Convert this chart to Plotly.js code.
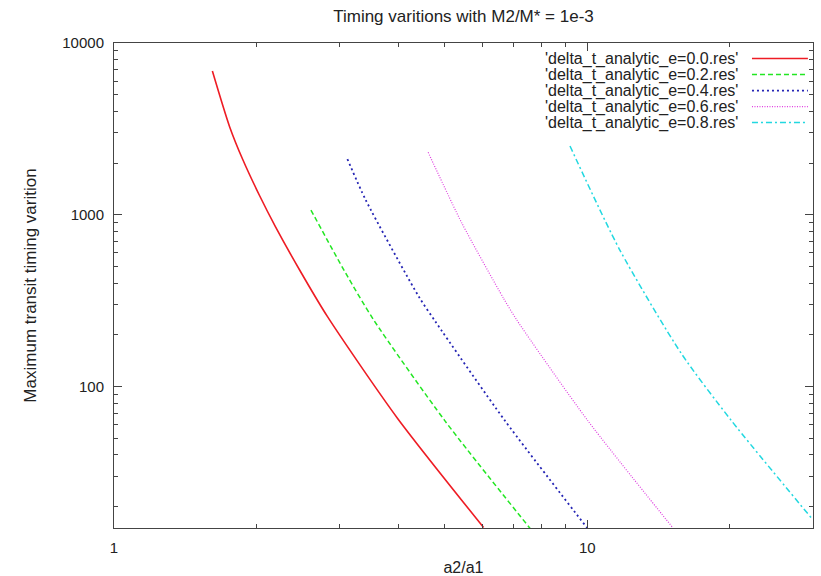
<!DOCTYPE html>
<html>
<head>
<meta charset="utf-8">
<script src="https://cdn.plot.ly/plotly-3.0.1.min.js"></script>
<style>html,body{margin:0;padding:0;background:#fff;}#chart{width:821px;height:576px;}</style>
</head>
<body>
<div id="chart"></div>
<script>
// ---- data ----
const seriesNames = [
  "'delta_t_analytic_e=0.0.res'",
  "'delta_t_analytic_e=0.2.res'",
  "'delta_t_analytic_e=0.4.res'",
  "'delta_t_analytic_e=0.6.res'",
  "'delta_t_analytic_e=0.8.res'"
];
const x_e00 = [1.614, 1.755, 1.872, 2.030, 2.193, 2.464, 2.826, 3.968, 6.04];
const y_e00 = [6870, 3258, 2089, 1294, 853, 480, 255, 65.6, 15.1];
const x_e02 = [2.607, 3.09, 3.543, 5.0, 7.575];
const y_e02 = [1065, 455, 242.7, 63.3, 14.9];
const x_e04 = [3.113, 3.404, 4.408, 4.786, 6.688, 10.0];
const y_e04 = [2110, 1218, 333, 237, 63.7, 15.0];
const x_e06 = [4.612, 5.437, 6.656, 7.1, 10.01, 15.18];
const y_e06 = [2309, 891, 326, 243.6, 63.7, 15.0];
const x_e08 = [9.196, 11.72, 15.8, 20.13, 29.9];
const y_e08 = [2512, 623, 155.9, 63.7, 16.9];

const xTickVals = [1, 10];
const xTickText = ["1", "10"];
const xMinorVals = [2, 3, 4, 5, 6, 7, 8, 9, 20, 30];
const yTickVals = [100, 1000, 10000];
const yTickText = ["100", "1000", "10000"];
const yMinorVals = [20, 30, 40, 50, 60, 70, 80, 90, 200, 300, 400, 500, 600, 700, 800, 900, 2000, 3000, 4000, 5000, 6000, 7000, 8000, 9000];

// ---- styles ----
const colors = ['#ee1c24', '#22e622', '#2424b4', '#e040e0', '#22d8e0'];
const dashes = ['solid', '5px,3px', '2px,3px', '1px,1.5px', '6px,3px,2px,3px'];
const widths = [1.6, 1.5, 1.8, 1.2, 1.5];

const xs = [x_e00, x_e02, x_e04, x_e06, x_e08];
const ys = [y_e00, y_e02, y_e04, y_e06, y_e08];

const traces = xs.map((x, i) => ({
  x: x, y: ys[i], name: seriesNames[i], type: 'scatter', mode: 'lines',
  line: {color: colors[i], dash: dashes[i], width: widths[i], shape: 'spline', smoothing: 0.7},
  showlegend: false, hoverinfo: 'skip'
}));

const FONT = 'Liberation Sans, Arial, Helvetica, sans-serif';
const TXT = '#222';

// custom legend: text on the left, line sample on the right
const legendY = [0.968, 0.935, 0.902, 0.869, 0.836];
const annotations = seriesNames.map((n, i) => ({
  xref: 'paper', yref: 'paper', x: 0.8956, y: legendY[i], xanchor: 'right', yanchor: 'middle',
  text: n, showarrow: false, font: {family: FONT, size: 16, color: TXT}
}));
const shapes = seriesNames.map((n, i) => ({
  type: 'line', xref: 'paper', yref: 'paper', x0: 0.9127, x1: 0.9927, y0: legendY[i], y1: legendY[i],
  line: {color: colors[i], dash: dashes[i], width: widths[i]}
}));

const axisCommon = {
  type: 'log', showgrid: false, zeroline: false, showline: true, linecolor: '#444', linewidth: 1,
  mirror: 'allticks', ticks: 'inside', ticklen: 8, tickcolor: '#444', tickwidth: 1,
  tickfont: {family: FONT, size: 15, color: TXT}, automargin: false
};

const layout = {
  width: 821, height: 576,
  margin: {l: 114, r: 8, t: 43, b: 48},
  paper_bgcolor: '#fff', plot_bgcolor: '#fff',
  font: {family: FONT, size: 15, color: TXT},
  showlegend: false,
  title: {text: 'Timing varitions with M2/M* = 1e-3', font: {family: FONT, size: 17, color: TXT},
          xref: 'paper', x: 0.5, xanchor: 'center', yref: 'container', y: 0.972, yanchor: 'middle'},
  xaxis: Object.assign({}, axisCommon, {
    range: [0, Math.log10(30)], tickmode: 'array', tickvals: xTickVals, ticktext: xTickText,
    ticklabelstandoff: 6,
    minor: {tickmode: 'array', tickvals: xMinorVals, ticks: 'inside', ticklen: 4, tickcolor: '#444', showgrid: false},
    title: {text: 'a2/a1', font: {family: FONT, size: 16, color: TXT}, standoff: 11}
  }),
  yaxis: Object.assign({}, axisCommon, {
    range: [Math.log10(15), 4], tickmode: 'array', tickvals: yTickVals, ticktext: yTickText,
    ticklabelstandoff: 6,
    minor: {tickmode: 'array', tickvals: yMinorVals, ticks: 'inside', ticklen: 4, tickcolor: '#444', showgrid: false},
    title: {text: 'Maximum transit timing varition', font: {family: FONT, size: 17, color: TXT}, standoff: 21}
  }),
  annotations: annotations,
  shapes: shapes
};

Plotly.newPlot('chart', traces, layout, {staticPlot: true, displayModeBar: false});
</script>
</body>
</html>
